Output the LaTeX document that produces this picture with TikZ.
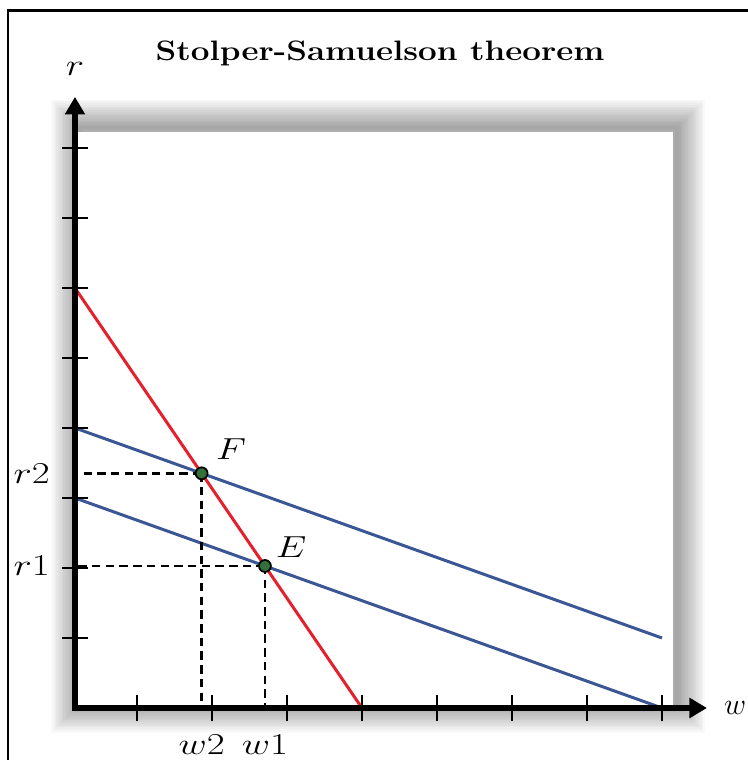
\documentclass[tikz,border=0pt]{standalone}
\usepackage{amsmath}
\usepackage{tikz}
\usetikzlibrary{arrows.meta,intersections,positioning}
\definecolor{pricered}{RGB}{228,32,44}
\definecolor{isoblue}{RGB}{58,86,148}
\definecolor{dotgreen}{RGB}{52,112,60}

\begin{document}
\begin{tikzpicture}[x=1.5cm,y=1.4cm]
    \tikzstyle{axis}=[line width=3.8pt,line join=miter,{Triangle[length=10pt,width=11pt]}-{Triangle[length=10pt,width=11pt]}]
    \tikzstyle{tick}=[line width=1.6pt]
    \tikzstyle{guide}=[line width=1.5pt,dash pattern=on 4.8pt off 3pt]
    \tikzstyle{curve}=[line width=1.7pt]
    \tikzstyle{point}=[circle,draw=black,line width=1pt,fill=dotgreen,minimum size=6.8pt,inner sep=0pt]
    \tikzstyle{plainlab}=[font=\fontsize{16}{18}\selectfont,inner sep=1pt]
    \tikzstyle{lab}=[plainlab,xscale=1.28,transform shape]
    \useasboundingbox (-1.24cm,-1.04cm) rectangle (13.72cm,14.16cm);
    \fill[white] (-1.24cm,-1.04cm) rectangle (13.72cm,14.16cm);
    \draw[line width=1.7pt] (-0.72,-0.8) -- (-0.72,9.971) -- (9.3,9.971);
      \node[font=\fontsize{16}{18}\selectfont\bfseries,anchor=base,xscale=1.18,transform shape] (title) at (4.24,9.257) {Stolper-Samuelson theorem};
      % panel with its shadow
      \foreach \s in {2,4,...,32}
        \draw[line width=\s pt,black,opacity=0.022] (0.23,0.05) rectangle (8.2,8.29);
      \fill[white] (0.173,0) rectangle (8.147,8.229);
      \coordinate (o) at (0.173,0);
      \coordinate (ytip) at (0.173,8.73);
      \coordinate (xtip) at (8.6,0);
      \draw[curve,pricered,name path=red] (0.173,6) -- (4,0);
      \draw[curve,isoblue,name path=hi] (0.173,4) -- (8,1);
      \draw[curve,isoblue,name path=lo] (0.173,3) -- (8,0);
      \path[name intersections={of=red and hi,by=f}];
      \path[name intersections={of=red and lo,by=e}];
      \coordinate (r2) at (f -| o);
      \coordinate (w2) at (f |- o);
      \coordinate (r1) at (e -| o);
      \coordinate (w1) at (e |- o);
      \draw[guide] (f) -- (r2);
      \draw[guide] (f) -- (w2);
      \draw[guide] (e) -- (r1);
      \draw[guide] (e) -- (w1);
      \draw[axis] (ytip) -- (o) -- (xtip);
      \foreach \i in {1,...,8} {
        \draw[tick] (0,\i) -- (0.347,\i);
        \draw[tick] (\i,-0.186) -- (\i,0.186);
      }
      \node[point] (F) at (f) {};
      \node[point] (E) at (e) {};
      \node[lab,above right=4pt and 4pt of F] (Flab) {$F$};
      \node[lab,above right=1pt and 2pt of E] (Elab) {$E$};
      \node[lab,left=0.45cm of r2] (r2lab) {$r2$};
      \node[lab,left=0.45cm of r1] (r1lab) {$r1$};
      \node[lab,below=0.5cm of w2] (w2lab) {$w2$};
      \node[lab,below=0.5cm of w1] (w1lab) {$w1$};
      \node[lab,above=0.38cm of ytip] (rlab) {$r$};
      \node[plainlab,right=0.3cm of xtip] (wlab) {$w$};
\end{tikzpicture}
\end{document}
